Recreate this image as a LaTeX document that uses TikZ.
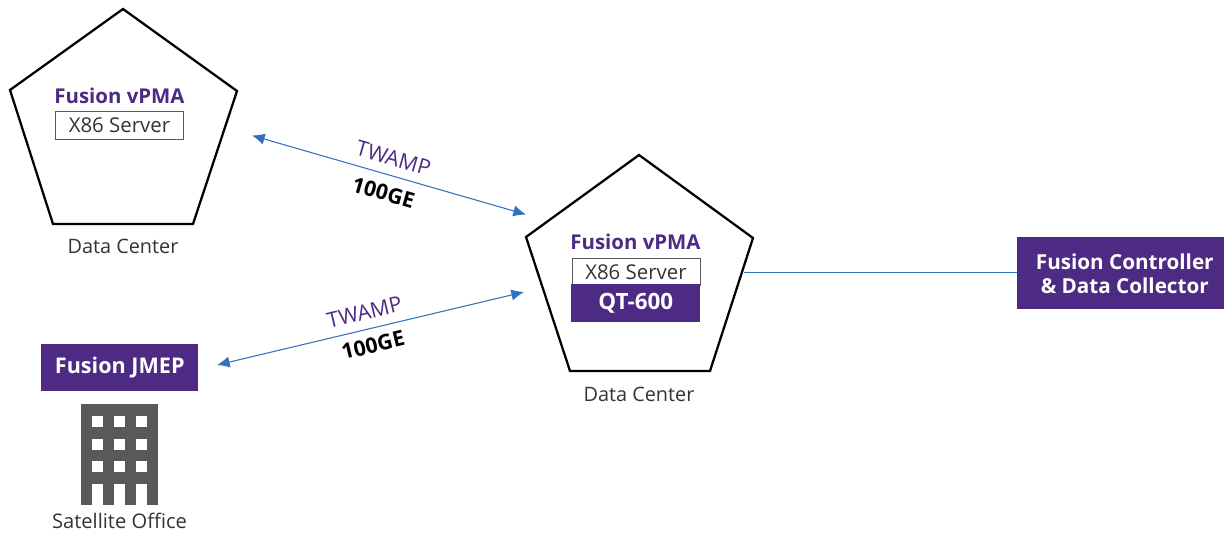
\documentclass[tikz,border=0pt]{standalone}
\usepackage{fontspec}
\setmainfont{Open Sans}
\usetikzlibrary{arrows.meta,calc}
\definecolor{fpurple}{HTML}{4D2A84}
\definecolor{fblue}{HTML}{3272BC}
\definecolor{fgrey}{HTML}{58595B}
\definecolor{ftext}{HTML}{333333}
\tikzset{
  x=0.75pt,y=-0.75pt,
  penta/.style={draw=black,line width=1.7pt,line join=miter},
  solidbox/.style={fill=fpurple,text=white,font=\fontsize{15.5}{18}\selectfont\bfseries,align=center,inner sep=0pt,anchor=north west},
  serverbox/.style={draw=fgrey,line width=0.7pt,fill=white,text=ftext,font=\fontsize{15.3}{17}\selectfont,inner sep=0pt,anchor=north west},
  vpma/.style={text=fpurple,font=\fontsize{15.3}{17}\selectfont\bfseries,inner sep=0pt},
  caption/.style={text=ftext,font=\fontsize{14.9}{16}\selectfont,inner sep=0pt},
  link/.style={draw=fblue,line width=0.8pt,{Latex[length=9.5pt,width=8.5pt]}-{Latex[length=9.5pt,width=8.5pt]}},
  twamp/.style={text=fpurple,font=\fontsize{16}{17}\selectfont,inner sep=0pt},
  speed/.style={text=black,font=\fontsize{16}{17}\selectfont\bfseries,inner sep=0pt},
  bld/.style={fill=fgrey},
  win/.style={fill=white}
}
\begin{document}
\begin{tikzpicture}
\useasboundingbox (0,0) rectangle (1224,532);
% left pentagon
\draw[penta] (123,9) -- (237,91) -- (193,224) -- (53,224) -- (10,90) -- cycle;
\node[vpma] (v1) at (119.5,96) {Fusion vPMA};
\node[serverbox,minimum width=96pt,minimum height=21pt] (s1) at (55,110.5) {X86 Server};
\node[caption] (c1) at (123,246.5) {Data Center};
% right pentagon
\draw[penta] (639,155) -- (753,238) -- (710,371) -- (570,371) -- (526,237) -- cycle;
\node[vpma] (v2) at (635.5,242) {Fusion vPMA};
\node[serverbox,minimum width=96pt,minimum height=20pt] (s2) at (571.5,258) {X86 Server};
\node[solidbox,minimum width=96.75pt,minimum height=28.5pt,font=\fontsize{16.8}{18}\selectfont\bfseries] (q) at (571,284) {QT-600};
\node[caption] (c2) at (639,394) {Data Center};
% controller
\node[solidbox,minimum width=155.25pt,minimum height=54pt,text depth=0pt] (fc) at (1017,237) {\hspace{6pt}Fusion Controller\\\hspace{6pt}\& Data Collector};
\coordinate (pe) at (744,272.5);
\draw[draw=fblue,line width=0.8pt] (pe) -- (fc.west |- pe);
% JMEP
\node[solidbox,minimum width=117.75pt,minimum height=35.25pt,font=\fontsize{16.2}{18}\selectfont\bfseries] (jm) at (41,344) {Fusion JMEP};
% building
\fill[bld] (81,404) rectangle (158,505);
\foreach \xx in {92,114,136}{
  \foreach \yy in {416,439,461}{
    \fill[win] (\xx,\yy) rectangle ++(11,11);
  }
  \fill[win] (\xx,484) rectangle (\xx+11,505);
}
\node[caption,font=\fontsize{15.1}{16}\selectfont] (c3) at (119.5,521) {Satellite Office};
% links
\coordinate (a1) at (252,135.5);
\coordinate (a2) at (526,214.5);
\coordinate (b1) at (217,365);
\coordinate (b2) at (524,292);
\draw[link] (a1) -- (a2);
\draw[link] (b1) -- (b2);
\node[twamp,rotate=-15.9] (t1) at (393.5,158) {TWAMP};
\node[speed,rotate=-15.9] (g1) at (383.5,192.5) {100GE};
\node[twamp,rotate=13.5] (t2) at (364.5,312) {TWAMP};
\node[speed,rotate=13.5] (g2) at (373,345) {100GE};
\end{tikzpicture}
\end{document}
